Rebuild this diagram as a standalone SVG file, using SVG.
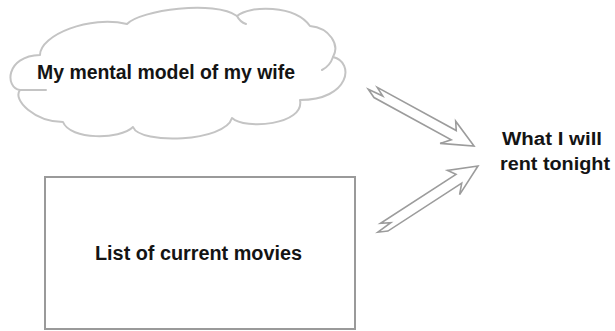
<svg xmlns="http://www.w3.org/2000/svg" width="615" height="331" viewBox="0 0 615 331">
<style>
.lbl{font-family:"Liberation Sans","DejaVu Sans",sans-serif;fill:#141414;font-weight:bold;}
.cloud{fill:#fff;stroke:#c4c4c4;stroke-width:2;stroke-linejoin:round;stroke-linecap:round;}
.box{fill:#fff;stroke:#9a9a9a;stroke-width:2;}
.arr{fill:#fff;stroke:#9c9c9c;stroke-width:1.6;stroke-linejoin:miter;}
</style>
<defs>
<path id="arrowShape" d="M0,0 L-28,-13 L-23,-5 L-113,-5 L-104,0 L-120,1 L-111,5.5 L-23,5.5 L-31,14 Z"/>
</defs>
<rect width="615" height="331" fill="#fff"/>
<g id="cloud-node">
<path class="cloud" d="M40,55 C40,35 90,15 127,24 C140,10 215,0 237,16 C250,5 295,5 310,26 C330,28 340,45 333,57 C355,62 350,100 300,100 C305,125 245,130 232,118 C225,142 140,145 133,127 C120,140 70,140 63,122 C35,122 12,100 20,90 C5,88 5,56 40,55 Z"/>
<path class="cloud" fill="none" d="M20,90 L46,90 M237,16 Q240,22 246,24 M333,57 Q330,66 322,70"/>
<text class="lbl" x="37" y="79" font-size="20" textLength="258" lengthAdjust="spacingAndGlyphs">My mental model of my wife</text>
</g>
<g id="box-node">
<rect class="box" x="45" y="177" width="310" height="152"/>
<text class="lbl" x="95" y="260" font-size="20" textLength="207" lengthAdjust="spacingAndGlyphs">List of current movies</text>
</g>
<g id="result-node">
<text class="lbl" x="502" y="145" font-size="18" textLength="100" lengthAdjust="spacingAndGlyphs">What I will</text>
<text class="lbl" x="500" y="170" font-size="18" textLength="110" lengthAdjust="spacingAndGlyphs">rent tonight</text>
</g>
<g id="connectors">
<use href="#arrowShape" class="arr" transform="translate(474,146) rotate(28.7)"/>
<use href="#arrowShape" class="arr" transform="translate(478,166) rotate(-33)"/>
</g>
</svg>
